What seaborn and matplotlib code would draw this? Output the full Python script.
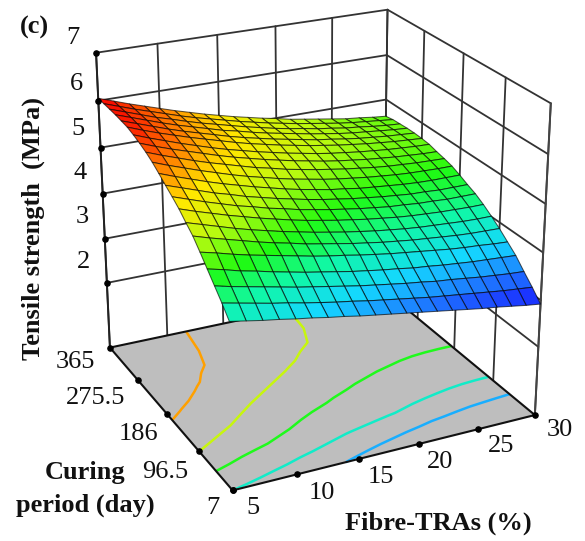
import numpy as np
import matplotlib
matplotlib.use('Agg')
import matplotlib.pyplot as plt
import seaborn as sns
from matplotlib.colors import Normalize
from mpl_toolkits.mplot3d.art3d import Poly3DCollection

sns.set_theme(style='white')
plt.rcParams['font.family'] = ['Liberation Serif', 'DejaVu Serif']

x_ticks = [5, 10, 15, 20, 25, 30]
y_ticks = [7, 96.5, 186, 275.5, 365]
z_ticks = [2, 3, 4, 5, 6, 7]
y_tick_labels = ['7', '96.5', '186', '275.5', '365']
contour_levels = [3.55, 3.95, 4.45, 4.95, 5.5]
z_floor = 0.5

# tensile strength, rows run along curing period, columns along fibre
tensile = [
    [3.95, 3.89, 3.83, 3.78, 3.72, 3.67, 3.61, 3.56, 3.50, 3.45, 3.40, 3.35, 3.30, 3.25, 3.20, 3.15, 3.10, 3.06, 3.01, 2.96, 2.92],
    [4.17, 4.10, 4.03, 3.96, 3.90, 3.83, 3.77, 3.71, 3.66, 3.60, 3.55, 3.50, 3.45, 3.40, 3.36, 3.32, 3.28, 3.24, 3.20, 3.17, 3.14],
    [4.37, 4.29, 4.22, 4.15, 4.08, 4.01, 3.95, 3.89, 3.83, 3.77, 3.72, 3.67, 3.62, 3.58, 3.53, 3.50, 3.46, 3.42, 3.39, 3.36, 3.34],
    [4.57, 4.49, 4.40, 4.33, 4.25, 4.18, 4.11, 4.05, 3.99, 3.93, 3.88, 3.83, 3.79, 3.74, 3.71, 3.67, 3.64, 3.61, 3.59, 3.57, 3.55],
    [4.77, 4.69, 4.60, 4.52, 4.45, 4.38, 4.31, 4.24, 4.18, 4.13, 4.07, 4.02, 3.97, 3.93, 3.89, 3.85, 3.81, 3.78, 3.76, 3.73, 3.71],
    [4.96, 4.86, 4.77, 4.68, 4.59, 4.51, 4.44, 4.36, 4.30, 4.24, 4.18, 4.13, 4.08, 4.04, 4.00, 3.97, 3.94, 3.91, 3.89, 3.88, 3.87],
    [5.10, 5.00, 4.90, 4.80, 4.71, 4.63, 4.55, 4.48, 4.41, 4.35, 4.29, 4.24, 4.19, 4.15, 4.11, 4.08, 4.06, 4.04, 4.02, 4.01, 4.01],
    [5.25, 5.14, 5.04, 4.94, 4.85, 4.76, 4.68, 4.60, 4.53, 4.47, 4.41, 4.36, 4.31, 4.27, 4.23, 4.20, 4.18, 4.16, 4.15, 4.14, 4.14],
    [5.37, 5.26, 5.15, 5.05, 4.95, 4.87, 4.78, 4.71, 4.63, 4.57, 4.51, 4.46, 4.41, 4.37, 4.33, 4.31, 4.28, 4.27, 4.25, 4.25, 4.25],
    [5.48, 5.37, 5.26, 5.15, 5.06, 4.96, 4.88, 4.80, 4.73, 4.66, 4.60, 4.55, 4.50, 4.46, 4.42, 4.39, 4.36, 4.35, 4.33, 4.33, 4.33],
    [5.60, 5.48, 5.37, 5.26, 5.16, 5.07, 4.98, 4.90, 4.82, 4.75, 4.69, 4.63, 4.59, 4.54, 4.51, 4.48, 4.45, 4.43, 4.42, 4.42, 4.42],
    [5.71, 5.59, 5.48, 5.37, 5.27, 5.17, 5.08, 5.00, 4.92, 4.85, 4.79, 4.73, 4.68, 4.64, 4.60, 4.57, 4.54, 4.52, 4.51, 4.50, 4.50],
    [5.80, 5.68, 5.57, 5.46, 5.36, 5.27, 5.18, 5.09, 5.02, 4.94, 4.88, 4.82, 4.77, 4.72, 4.68, 4.64, 4.61, 4.59, 4.57, 4.56, 4.55],
    [5.87, 5.75, 5.64, 5.54, 5.44, 5.34, 5.25, 5.17, 5.09, 5.02, 4.95, 4.89, 4.83, 4.78, 4.74, 4.70, 4.67, 4.64, 4.62, 4.60, 4.59],
    [5.93, 5.81, 5.70, 5.59, 5.49, 5.39, 5.30, 5.22, 5.14, 5.07, 5.00, 4.94, 4.88, 4.83, 4.79, 4.75, 4.72, 4.69, 4.67, 4.65, 4.64],
    [5.98, 5.86, 5.75, 5.65, 5.55, 5.46, 5.37, 5.28, 5.20, 5.13, 5.06, 5.00, 4.94, 4.89, 4.84, 4.80, 4.76, 4.73, 4.70, 4.68, 4.66],
    [6.00, 5.89, 5.78, 5.67, 5.57, 5.48, 5.39, 5.30, 5.22, 5.15, 5.08, 5.02, 4.96, 4.90, 4.86, 4.81, 4.77, 4.74, 4.71, 4.69, 4.67],
    [6.02, 5.91, 5.80, 5.69, 5.59, 5.50, 5.41, 5.32, 5.25, 5.17, 5.10, 5.04, 4.98, 4.92, 4.87, 4.82, 4.78, 4.75, 4.72, 4.69, 4.67],
    [6.03, 5.92, 5.81, 5.70, 5.61, 5.51, 5.42, 5.34, 5.26, 5.18, 5.11, 5.04, 4.98, 4.93, 4.87, 4.83, 4.78, 4.75, 4.71, 4.68, 4.66],
    [6.04, 5.93, 5.82, 5.72, 5.62, 5.52, 5.43, 5.35, 5.27, 5.19, 5.12, 5.05, 4.99, 4.93, 4.88, 4.83, 4.78, 4.74, 4.71, 4.68, 4.65],
    [6.05, 5.94, 5.83, 5.73, 5.63, 5.53, 5.44, 5.35, 5.27, 5.19, 5.12, 5.05, 4.99, 4.92, 4.87, 4.82, 4.77, 4.72, 4.69, 4.65, 4.62],
]

surface_colors = ['#1a1aff', '#1e70ff', '#14d8ff', '#10f8a8', '#20fa10',
                  '#b8fa10', '#ffe800', '#ff7400', '#f80000']

Z = np.array(tensile)
X, Y = np.meshgrid(np.linspace(x_ticks[0], x_ticks[-1], Z.shape[1]),
                   np.linspace(y_ticks[0], y_ticks[-1], Z.shape[0]))
cmap = sns.blend_palette(surface_colors, as_cmap=True)
norm = Normalize(Z.min(), Z.max())

W, H = 585, 541
fig = plt.figure(figsize=(W / 100, H / 100), dpi=100)
ax = fig.add_axes([0.1, 0.1, 0.5 * H / W, 0.5], projection='3d', computed_zorder=False)
ax.set_facecolor('none')
ax.set_axis_off()

def line3d(xs, ys, zs, color='#333333', lw=1.3, zorder=0.5):
    ax.plot(xs, ys, zs, color=color, lw=lw, zorder=zorder, solid_capstyle='round')

x0, x1, y0, y1 = x_ticks[0], x_ticks[-1], y_ticks[0], y_ticks[-1]
z1 = z_ticks[-1]

# back walls
for xv in x_ticks:
    line3d([xv, xv], [y1, y1], [z_floor, z1])
for yv in y_ticks:
    line3d([x1, x1], [yv, yv], [z_floor, z1])
for zv in z_ticks:
    line3d([x0, x1], [y1, y1], [zv, zv])
    line3d([x1, x1], [y0, y1], [zv, zv])

# floor with the projected contours
ax.add_collection3d(Poly3DCollection([[(x0, y0, z_floor), (x1, y0, z_floor), (x1, y1, z_floor), (x0, y1, z_floor)]],
                                     facecolor='#bebebe', edgecolor='none', zorder=1))
ax.contour(X, Y, Z, levels=contour_levels, zdir='z', offset=z_floor, cmap=cmap, norm=norm,
           linewidths=1.8, zorder=2)
line3d([x0, x1], [y0, y0], [z_floor, z_floor], color='#111111', lw=1.5, zorder=3)
line3d([x0, x0], [y0, y1], [z_floor, z_floor], color='#111111', lw=1.5, zorder=3)
line3d([x1, x1], [y0, y1], [z_floor, z_floor], color='#111111', lw=1.5, zorder=3)
line3d([x0, x1], [y1, y1], [z_floor, z_floor], color='#111111', lw=1.5, zorder=3)
line3d([x0, x0], [y1, y1], [z_floor, z1], color='#222222', lw=1.4, zorder=3)
line3d([x1, x1], [y0, y0], [z_floor, z1], color='#444444', lw=1.4, zorder=3)

ax.plot_surface(X, Y, Z, rstride=1, cstride=1, cmap=cmap, norm=norm, shade=False,
                edgecolor=(0, 0, 0, 0.65), linewidth=0.75, antialiased=True, zorder=5)

# tick dots
ax.scatter(x_ticks, [y0] * len(x_ticks), [z_floor] * len(x_ticks), c='black', s=14, depthshade=False, zorder=6)
ax.scatter([x0] * len(y_ticks), y_ticks, [z_floor] * len(y_ticks), c='black', s=14, depthshade=False, zorder=6)
ax.scatter([x0] * len(z_ticks), [y1] * len(z_ticks), z_ticks, c='black', s=14, depthshade=False, zorder=6)

ax.set_xlim(x0, x1, view_margin=0)
ax.set_ylim(y0, y1, view_margin=0)
ax.set_zlim(z_floor, z1, view_margin=0)
ax.view_init(elev=23.735, azim=-115.957)
ax.set_box_aspect((0.9972, 0.9833, 1))
ax.set_proj_type('persp', focal_length=0.6596)

# scale and shift the axes so the projected box lands where the reference has it
scale, shift_x, shift_y = 2986.12, 315.33, 307.22
ax.apply_aspect()
box = ax.get_position()
origin = ax.transData.transform((0, 0))
unit = ax.transData.transform((1, 0))[0] - origin[0]
frac_x = (origin[0] - box.x0 * W) / (box.width * W)
frac_y = (origin[1] - box.y0 * H) / (box.height * H)
side = box.width * W * scale / unit
ax.set_position([(shift_x - frac_x * side) / W, (shift_y - frac_y * side) / H, side / W, side / H])

def label(x, y, text, **kw):
    fig.text(x / W, 1 - y / H, text, ha='center', va='center', color='#111111', fontsize=19, **kw)

z_label_pos = [(84, 262), (82, 217), (80, 173), (78, 129), (76, 84), (73, 38)]
for (px, py), zv in zip(z_label_pos, z_ticks):
    label(px, py, str(zv))
y_label_pos = [(213, 508), (165, 472), (138, 434), (96, 398), (75, 362)]
for (px, py), text in zip(y_label_pos, y_tick_labels):
    label(px, py, text)
x_label_pos = [(253, 508), (322, 493), (381, 477), (440, 462), (501, 446), (560, 430)]
for (px, py), xv in zip(x_label_pos, x_ticks):
    label(px, py, str(xv))

label(34, 27, '(c)', fontweight='bold')
label(33, 228, 'Tensile strength  (MPa)', fontweight='bold', rotation=90)
label(85, 472, 'Curing', fontweight='bold')
label(85, 505, 'period (day)', fontweight='bold')
label(438, 523, 'Fibre-TRAs (%)', fontweight='bold')

fig.savefig('out.png', dpi=100)
